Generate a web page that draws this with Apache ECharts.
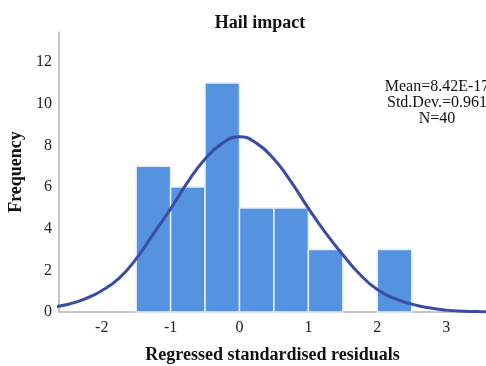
<!DOCTYPE html>
<html><head><meta charset="utf-8">
<script src="https://cdn.jsdelivr.net/npm/echarts@6/dist/echarts.min.js"></script>
<style>html,body{margin:0;padding:0;background:#fff}#c{width:486px;height:366px}</style>
</head><body><div id="c"></div>
<script>
var binStarts = [-1.5, -1.0, -0.5, 0.0, 0.5, 1.0, 1.5, 2.0];
var binEnds   = [-1.0, -0.5, 0.0, 0.5, 1.0, 1.5, 2.0, 2.5];
var counts    = [7, 6, 11, 5, 5, 3, 0, 3];
var curveX = [-2.75,-2.5,-2.25,-2,-1.75,-1.5,-1.25,-1,-0.75,-0.5,-0.25,0,0.25,0.5,0.75,1,1.25,1.5,1.75,2,2.25,2.5,2.75,3,3.25,3.5,3.75];
var curveY = [0.22,0.36,0.62,1.02,1.62,2.55,3.75,4.95,6.25,7.35,8.1,8.42,8.1,7.35,6.25,4.98,3.8,2.75,1.8,1.08,0.65,0.38,0.2,0.09,0.04,0.015,0.005];
var xTicks = [-2, -1, 0, 1, 2, 3];
var yTicks = [0, 2, 4, 6, 8, 10, 12];
var statsLines = ['Mean=8.42E-17', 'Std.Dev.=0.961', 'N=40'];
var titleText = 'Hail impact';
var xName = 'Regressed standardised residuals';
var yName = 'Frequency';

var serif = '"Liberation Serif", "Times New Roman", serif';
var chart = echarts.init(document.getElementById('c'), null, {renderer: 'canvas'});
var barData = counts.map(function (c, i) { return [binStarts[i], binEnds[i], c]; });
var curveData = curveX.map(function (x, i) { return [x, curveY[i]]; });

chart.setOption({
  animation: false,
  backgroundColor: '#fff',
  title: {
    text: titleText, left: 255, top: 9, textAlign: 'center',
    textStyle: {fontFamily: serif, fontWeight: 'bold', fontSize: 18, color: '#111'}
  },
  grid: {left: 59, right: 0, top: 32, bottom: 54, containLabel: false, outerBoundsMode: 'none'},
  xAxis: {
    type: 'value', min: -2.62, max: 3.578,
    name: xName, nameLocation: 'middle', nameGap: 34,
    nameTextStyle: {fontFamily: serif, fontWeight: 'bold', fontSize: 18, color: '#111'},
    axisLine: {show: true, onZero: false, lineStyle: {color: '#b4b4b4', width: 1.5}},
    axisTick: {show: false},
    splitLine: {show: false},
    axisLabel: {customValues: xTicks, fontFamily: serif, fontSize: 16, color: '#222', margin: 8}
  },
  yAxis: {
    type: 'value', min: 0, max: 13.45,
    name: yName, nameLocation: 'middle', nameGap: 33, nameRotate: 90,
    nameTextStyle: {fontFamily: serif, fontWeight: 'bold', fontSize: 18, color: '#111'},
    axisLine: {show: true, onZero: false, lineStyle: {color: '#b4b4b4', width: 1.5}},
    axisTick: {show: false},
    splitLine: {show: false},
    axisLabel: {customValues: yTicks, fontFamily: serif, fontSize: 16, color: '#222', margin: 7}
  },
  series: [
    {
      type: 'custom',
      data: barData,
      encode: {x: [0, 1], y: 2},
      renderItem: function (params, api) {
        var p0 = api.coord([api.value(0), api.value(2)]);
        var p1 = api.coord([api.value(1), 0]);
        if (api.value(2) <= 0) return null;
        return {
          type: 'rect',
          shape: {x: p0[0], y: p0[1], width: p1[0] - p0[0], height: p1[1] - p0[1]},
          style: {fill: '#5592e0', stroke: '#e4eefa', lineWidth: 1.5}
        };
      },
      z: 2
    },
    {
      type: 'line', data: curveData, smooth: true, showSymbol: false, symbol: 'none',
      lineStyle: {color: '#3a4ca3', width: 3}, clip: true, z: 3
    }
  ],
  graphic: statsLines.map(function (t, i) {
    return {
      type: 'text', x: 437, y: 79 + i * 16,
      style: {text: t, textAlign: 'center', textVerticalAlign: 'top', font: '16px ' + serif, fill: '#111'}
    };
  })
});
</script></body></html>
